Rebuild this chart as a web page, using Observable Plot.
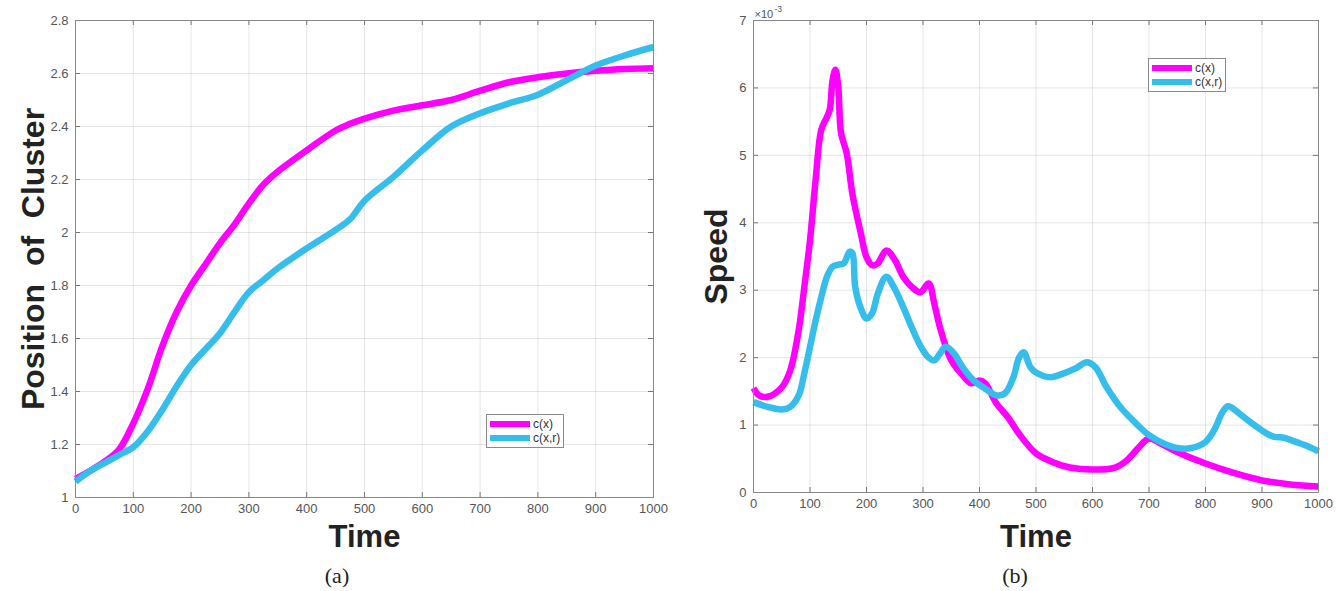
<!DOCTYPE html>
<html>
<head>
<meta charset="utf-8">
<script src="https://cdn.jsdelivr.net/npm/d3@7"></script>
<script src="https://cdn.jsdelivr.net/npm/@observablehq/plot@0.6"></script>
<style>
  html, body { margin: 0; padding: 0; background: white; }
  #wrap { position: relative; width: 1336px; height: 591px; overflow: hidden; font-family: "Liberation Sans", Arial, sans-serif; }
  .panel { position: absolute; top: 0; }
  .caption { position: absolute; font-family: "Liberation Serif", "DejaVu Serif", serif; font-size: 22px; color: #222; transform: translateX(-50%); }
  .legend { position: absolute; border: 1px solid #8a8a8a; background: white; padding: 2px 3px; font-size: 12px; color: #333; line-height: 14px; }
  .legend .row { display: flex; align-items: center; white-space: nowrap; }
  .legend .sw { display: inline-block; width: 40px; height: 6px; margin-right: 3px; }
</style>
</head>
<body>
<div id="wrap">
  <div id="a" class="panel" style="left:0px"></div>
  <div id="b" class="panel" style="left:680px"></div>
  <div class="caption" style="left:337px; top:563px">(a)</div>
  <div class="caption" style="left:1015px; top:563px">(b)</div>
  <div id="legA" class="legend" style="left:486px; top:414px"></div>
  <div id="legB" class="legend" style="left:1148px; top:58px"></div>
</div>
<script>
// ---------- data ----------
const seriesNames = ["c(x)", "c(x,r)"];
const seriesColors = ["#ff00ff", "#35bdec"];

const xTicks = [0, 100, 200, 300, 400, 500, 600, 700, 800, 900, 1000];
const posTicks = [1, 1.2, 1.4, 1.6, 1.8, 2, 2.2, 2.4, 2.6, 2.8];
const speedTicks = [0, 1, 2, 3, 4, 5, 6, 7];

// Panel (a): position of cluster
const posTime = [0, 25, 50, 75, 100, 125, 150, 175, 200, 225, 250, 275, 300, 325, 350, 400, 450, 475, 500, 550, 600, 650, 700, 750, 800, 850, 900, 950, 1000];
const posCx   = [1.07, 1.10, 1.135, 1.18, 1.28, 1.41, 1.57, 1.70, 1.80, 1.88, 1.96, 2.03, 2.11, 2.18, 2.23, 2.31, 2.385, 2.41, 2.43, 2.46, 2.48, 2.50, 2.535, 2.567, 2.586, 2.60, 2.61, 2.617, 2.62];
const posCxr  = [1.06, 1.10, 1.13, 1.16, 1.19, 1.25, 1.33, 1.42, 1.50, 1.56, 1.62, 1.70, 1.775, 1.82, 1.865, 1.94, 2.01, 2.05, 2.12, 2.21, 2.31, 2.40, 2.45, 2.487, 2.52, 2.575, 2.63, 2.668, 2.70];

// Panel (b): speed (x 10^-3)
const speedTimeCx = [0, 10, 25, 50, 65, 80, 90, 100, 110, 120, 130, 135, 140, 145, 150, 155, 165, 175, 190, 200, 210, 220, 235, 250, 265, 280, 295, 310, 320, 330, 350, 370, 385, 400, 410, 430, 450, 470, 500, 530, 560, 600, 640, 660, 680, 700, 720, 750, 800, 850, 900, 950, 1000];
const speedCx     = [1.55, 1.44, 1.42, 1.56, 1.81, 2.41, 3.05, 3.74, 4.64, 5.38, 5.57, 5.68, 6.12, 6.27, 6.02, 5.33, 5.03, 4.43, 3.84, 3.49, 3.37, 3.40, 3.59, 3.45, 3.20, 3.05, 2.97, 3.10, 2.80, 2.45, 1.96, 1.74, 1.62, 1.66, 1.62, 1.32, 1.12, 0.87, 0.58, 0.45, 0.37, 0.34, 0.37, 0.47, 0.65, 0.80, 0.73, 0.60, 0.43, 0.29, 0.18, 0.12, 0.09];

const speedTimeCxr = [0, 25, 50, 65, 80, 90, 100, 110, 120, 130, 140, 150, 160, 170, 175, 180, 190, 200, 210, 220, 235, 250, 265, 280, 295, 310, 320, 330, 340, 355, 370, 390, 410, 430, 445, 460, 470, 478, 490, 500, 525, 550, 570, 590, 605, 625, 650, 680, 700, 725, 750, 775, 800, 815, 830, 840, 860, 880, 900, 920, 940, 960, 980, 1000];
const speedCxr     = [1.34, 1.27, 1.23, 1.27, 1.44, 1.77, 2.16, 2.55, 2.90, 3.20, 3.35, 3.38, 3.40, 3.57, 3.55, 3.05, 2.73, 2.58, 2.66, 2.95, 3.20, 3.02, 2.75, 2.45, 2.18, 2.00, 1.96, 2.06, 2.16, 2.06, 1.86, 1.66, 1.54, 1.44, 1.47, 1.71, 2.00, 2.08, 1.86, 1.78, 1.71, 1.77, 1.84, 1.93, 1.86, 1.56, 1.26, 1.00, 0.85, 0.73, 0.66, 0.66, 0.75, 0.92, 1.19, 1.28, 1.17, 1.04, 0.92, 0.83, 0.81, 0.75, 0.69, 0.61];

// ---------- tables ----------
const posData = [
  ...posTime.map((t, i) => ({t, v: posCx[i], s: seriesNames[0]})),
  ...posTime.map((t, i) => ({t, v: posCxr[i], s: seriesNames[1]}))
];
const speedData = [
  ...speedTimeCx.map((t, i) => ({t, v: speedCx[i], s: seriesNames[0]})),
  ...speedTimeCxr.map((t, i) => ({t, v: speedCxr[i], s: seriesNames[1]}))
];

const FONT = "'Liberation Sans', Arial, Helvetica, sans-serif";
const fmt = d => String(+(+d).toFixed(1));

function panel({width, height, mt, mr, mb, ml, data, yDomain, yTicks, yLabel, yLabelDx, yLabelSize, timeDy, extra}) {
  const iw = width - ml - mr, ih = height - mt - mb;
  return Plot.plot({
    width, height,
    marginTop: mt, marginRight: mr, marginBottom: mb, marginLeft: ml,
    style: {fontFamily: FONT, fontSize: "13px", color: "#555", background: "white"},
    x: {domain: [0, 1000]},
    y: {domain: yDomain},
    color: {domain: seriesNames, range: seriesColors},
    marks: [
      Plot.gridX({ticks: xTicks, stroke: "#000", strokeOpacity: 0.1}),
      Plot.gridY({ticks: yTicks, stroke: "#000", strokeOpacity: 0.1}),
      Plot.tickX(xTicks, {x: d => d, insetTop: ih - 5, stroke: "#777"}),
      Plot.tickX(xTicks, {x: d => d, insetBottom: ih - 5, stroke: "#777"}),
      Plot.tickY(yTicks, {y: d => d, insetRight: iw - 5, stroke: "#777"}),
      Plot.tickY(yTicks, {y: d => d, insetLeft: iw - 5, stroke: "#777"}),
      Plot.axisX({ticks: xTicks, tickSize: 0, tickPadding: 6, label: null, tickFormat: d => String(d), fill: "#555"}),
      Plot.axisY({ticks: yTicks, tickSize: 0, tickPadding: 7, label: null, tickFormat: fmt, fill: "#555"}),
      Plot.line(data, {x: "t", y: "v", z: "s", stroke: "s", strokeWidth: 6.5, curve: "catmull-rom", strokeLinejoin: "round", strokeLinecap: "butt"}),
      Plot.frame({stroke: "#888", strokeWidth: 1}),
      Plot.text(["Time"], {frameAnchor: "bottom", dy: timeDy, lineAnchor: "middle", textAnchor: "middle", fontSize: 31, fontWeight: "bold", fill: "#222", text: d => d}),
      Plot.text([yLabel], {frameAnchor: "left", dx: yLabelDx, rotate: -90, textAnchor: "middle", lineAnchor: "middle", fontSize: yLabelSize, fontWeight: "bold", fill: "#222", text: d => d}),
      ...(extra || [])
    ]
  });
}

document.getElementById("a").append(panel({
  width: 670, height: 560, mt: 20, mr: 17, mb: 63, ml: 75,
  data: posData, yDomain: [1, 2.8], yTicks: posTicks,
  yLabel: "Position\u00a0 of\u00a0 Cluster", yLabelDx: -42, yLabelSize: 32, timeDy: 40
}));

document.getElementById("b").append(panel({
  width: 656, height: 560, mt: 20, mr: 18, mb: 68, ml: 73,
  data: speedData, yDomain: [0, 7], yTicks: speedTicks,
  yLabel: "Speed", yLabelDx: -37, yLabelSize: 32, timeDy: 45,
  extra: [
    Plot.text(["\u00d710"], {frameAnchor: "top-left", textAnchor: "start", dx: 1, dy: -10, fontSize: 11, fill: "#555", text: d => d}),
    Plot.text(["-3"], {frameAnchor: "top-left", textAnchor: "start", dx: 21, dy: -15, fontSize: 8.5, fill: "#555", text: d => d})
  ]
}));

// legends
for (const id of ["legA", "legB"]) {
  const el = document.getElementById(id);
  seriesNames.forEach((n, i) => {
    const row = document.createElement("div");
    row.className = "row";
    const sw = document.createElement("span");
    sw.className = "sw";
    sw.style.background = seriesColors[i];
    const tx = document.createElement("span");
    tx.textContent = n;
    row.append(sw, tx);
    el.append(row);
  });
}
</script>
</body>
</html>
